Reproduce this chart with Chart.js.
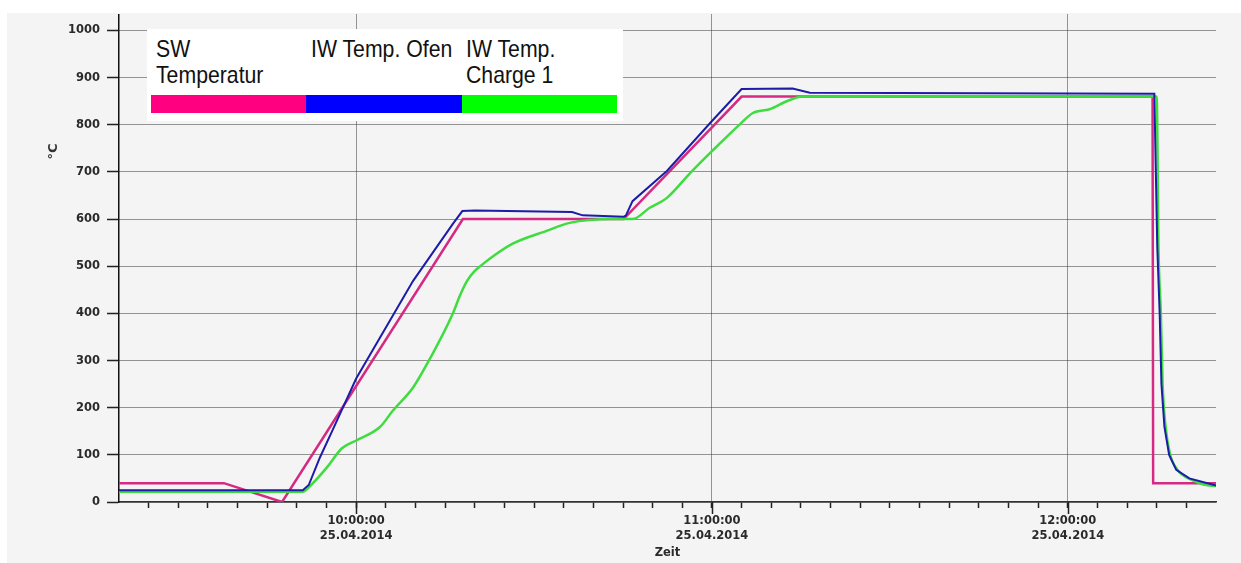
<!DOCTYPE html>
<html>
<head>
<meta charset="utf-8">
<script src="https://cdn.jsdelivr.net/npm/chart.js@4/dist/chart.umd.min.js"></script>
<style>
	body { margin: 0; background: #ffffff; }
	#wrap { position: relative; width: 1241px; height: 563px; }
	#legend { position: absolute; left: 147px; top: 29px; width: 476px; height: 92px; background: #ffffff; }
	.lg-text { position: absolute; top: 7px; width: 166px; font: 24px "Liberation Sans", Arial, sans-serif; line-height: 26px; color: #111; transform: scaleX(0.885); transform-origin: 0 0; }
	.lg-bar { position: absolute; top: 66px; height: 18px; }
</style>
</head>
<body>
<div id="wrap">
	<canvas id="canvas1" width="1241" height="563"></canvas>
	<div id="legend"></div>
</div>
<script>
// times are minutes after midnight (25.04.2014)
var seriesNames = ["SW Temperatur", "IW Temp. Ofen", "IW Temp. Charge 1"];
var lineColors = ["#d42a82", "#1c1ca8", "#3fdc3f"];
var legendColors = ["#ff0080", "#0000ff", "#00ff00"];

var swTime = [560, 577.7, 587.5, 618, 645.1, 665, 734.3, 734.4, 745];
var swTemp = [40, 40, 0, 600, 600, 860, 860, 40, 40];

var ofenTime = [560, 591, 592, 593.9, 596, 600, 609.6, 616.3, 617.9, 620, 636.4, 638.2, 645.1, 645.5,
	646.6, 652.4, 660, 665, 673.6, 676.5, 734.6, 735.1, 735.5, 735.8, 736.3, 737.1, 738.3, 740.5, 744.7, 745];
var ofenTemp = [25, 25, 36, 95, 152, 262, 469, 590, 617, 618, 615, 608, 605, 608,
	638, 702, 808, 876, 877, 868, 866, 540, 400, 250, 160, 100, 68, 50, 36, 35];

var chargeTime = [560, 591, 592.7, 595.1, 597.6, 600.1, 604, 606.2, 609.6, 612, 616.3, 617.5, 618.7, 620,
	621.4, 623.5, 626.4, 632.1, 636, 643.3, 646.6, 649.5, 652.4, 656.2, 660, 664.7, 666.9, 669.7, 672.6, 675.3,
	735, 735.3, 735.7, 736, 736.5, 737.2, 738.4, 740.9, 744.7, 745];
var chargeTemp = [22, 22, 40, 74, 114, 131, 159, 194, 243, 294, 400, 438, 469, 490,
	505, 525, 548, 575, 592, 600, 600, 624, 645, 696, 744, 801, 825, 833, 850, 860,
	860, 540, 400, 250, 160, 104, 70, 47, 34, 34];

var hourTicks = [600, 660, 720];
var hourLabels = ["10:00:00", "11:00:00", "12:00:00"];
var dateLabel = "25.04.2014";

function toPoints(times, temps) {
	return times.map(function(t, i) {
		return { x: t, y: temps[i] };
	});
}

var tickFont = { family: "'DejaVu Sans', Verdana, sans-serif", size: 11.5, weight: "bold", lineHeight: 1.3 };

var background = {
	id: "background",
	beforeDraw: function(chart) {
		var ctx = chart.ctx;
		ctx.save();
		ctx.fillStyle = "#f4f4f4";
		ctx.fillRect(7, 13, chart.width - 7, chart.height - 13);
		ctx.restore();
	}
};

var extras = {
	id: "extras",
	afterDraw: function(chart) {
		var ctx = chart.ctx;
		var xs = chart.scales.x;
		var area = chart.chartArea;
		ctx.save();
		// longer tick marks on full hours
		ctx.strokeStyle = "#222";
		ctx.lineWidth = 1.5;
		hourTicks.forEach(function(t) {
			var px = Math.round(xs.getPixelForValue(t)) + 0.5;
			ctx.beginPath();
			ctx.moveTo(px, area.bottom);
			ctx.lineTo(px, area.bottom + 12);
			ctx.stroke();
		});
		// unit label of the y axis
		ctx.translate(54, area.top + 137);
		ctx.rotate(-Math.PI / 2);
		ctx.fillStyle = "#333";
		ctx.font = "bold 13px 'DejaVu Sans', Verdana, sans-serif";
		ctx.textAlign = "center";
		ctx.textBaseline = "middle";
		ctx.fillText("°C", 0, 0);
		ctx.restore();
	}
};

var datasets = [
	{ label: seriesNames[0], data: toPoints(swTime, swTemp), borderColor: lineColors[0], borderWidth: 2.5, order: 2 },
	{ label: seriesNames[1], data: toPoints(ofenTime, ofenTemp), borderColor: lineColors[1], borderWidth: 2, order: 0 },
	{ label: seriesNames[2], data: toPoints(chargeTime, chargeTemp), borderColor: lineColors[2], borderWidth: 2.5, order: 1, cubicInterpolationMode: "monotone" }
];

new Chart(document.getElementById("canvas1"), {
	type: "line",
	data: { datasets: datasets },
	options: {
		responsive: false,
		animation: false,
		layout: { padding: { left: 0, right: 25, top: 13, bottom: 0 } },
		elements: { point: { radius: 0 }, line: { tension: 0 } },
		plugins: { legend: { display: false }, tooltip: { enabled: false } },
		scales: {
			x: {
				type: "linear",
				min: 560,
				max: 745,
				afterFit: function(scale) { scale.height = 61; },
				ticks: {
					stepSize: 5,
					autoSkip: false,
					maxRotation: 0,
					padding: 6,
					color: "#2a2a2a",
					font: tickFont,
					callback: function(value) {
						var i = hourTicks.indexOf(value);
						return i >= 0 ? [hourLabels[i], dateLabel] : "";
					}
				},
				grid: {
					tickLength: 6,
					lineWidth: 1,
					color: function(c) {
						return c.tick && hourTicks.indexOf(c.tick.value) >= 0 ? "#333" : "rgba(0,0,0,0)";
					},
					tickColor: function(c) {
						return c.tick && (c.tick.value === 560 || c.tick.value === 745) ? "rgba(0,0,0,0)" : "#222";
					},
					tickWidth: 1.5
				},
				border: { display: true, color: "#333", width: 1.5, dash: [1, 1] },
				title: {
					display: true,
					text: "Zeit",
					color: "#2a2a2a",
					font: { family: "'DejaVu Sans', Verdana, sans-serif", size: 11.5, weight: "bold" },
					padding: { top: 0, bottom: 3 }
				}
			},
			y: {
				min: 0,
				max: 1034,
				afterFit: function(scale) { scale.width = 119; },
				afterBuildTicks: function(scale) {
					scale.ticks = scale.ticks.filter(function(t) { return t.value % 100 === 0; });
				},
				ticks: {
					stepSize: 100,
					padding: 7,
					color: "#2a2a2a",
					font: tickFont,
					callback: function(value) { return String(value); }
				},
				grid: { tickLength: 12, lineWidth: 1, color: "#333", tickColor: "#222", tickWidth: 1.5 },
				border: { display: true, color: "#111", width: 1.5, dash: [1, 1] }
			}
		}
	},
	plugins: [background, extras]
});

// legend: name above a coloured bar, three columns
var legend = document.getElementById("legend");
seriesNames.forEach(function(name, i) {
	var text = document.createElement("div");
	text.className = "lg-text";
	text.style.left = (8.5 + i * 155.3) + "px";
	text.textContent = name;
	legend.appendChild(text);
	var bar = document.createElement("div");
	bar.className = "lg-bar";
	bar.style.left = (4 + i * 155.3) + "px";
	bar.style.width = "155.3px";
	bar.style.background = legendColors[i];
	legend.appendChild(bar);
});
</script>
</body>
</html>
